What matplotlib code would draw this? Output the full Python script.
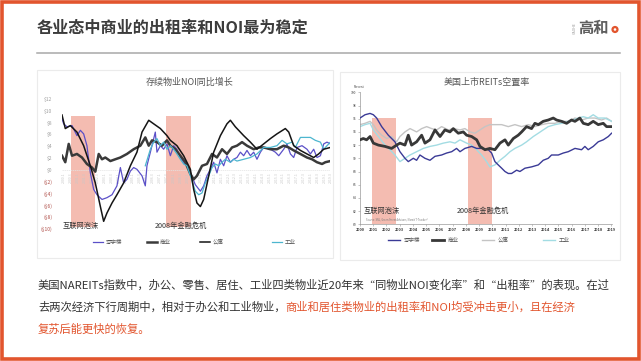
import matplotlib
matplotlib.use('Agg')
import matplotlib.pyplot as plt
from matplotlib.patches import Rectangle, Circle

plt.rcParams['font.family'] = ['Noto Sans CJK SC', 'DejaVu Sans']

W, H = 641, 361

# ---------------- data: left chart (same-store NOI growth, $) ----------------
series_names = ['写字楼', '商业', '公寓', '工业']

noi_office_x = [2000, 2000.12, 2000.36, 2000.73, 2001.09, 2001.34, 2001.58, 2001.82, 2002.07, 2002.31,
                2002.55, 2002.92, 2003.28, 2003.65, 2004.01, 2004.26, 2004.5, 2004.74, 2004.99, 2005.23,
                2005.47, 2005.84, 2006.08, 2006.2, 2006.45, 2006.81, 2006.93, 2007.18, 2007.42, 2007.66,
                2007.91, 2008.15, 2008.39, 2008.64, 2008.88, 2009.12, 2009.37, 2009.73, 2010.1, 2010.34,
                2010.58, 2010.83, 2011.07, 2011.31, 2011.56, 2011.8, 2012.04, 2012.29, 2012.53, 2012.77,
                2013.02, 2013.26, 2013.5, 2013.75, 2013.99, 2014.23, 2014.48, 2014.72, 2015.21, 2015.57,
                2015.82, 2016.18, 2016.42, 2016.67, 2016.91, 2017.15, 2017.52, 2017.88, 2018.13, 2018.37,
                2018.61, 2018.86, 2019.1, 2019.34, 2019.59]
noi_office = [8.7, 7.8, 7.3, 7.5, 5.8, 6.7, 6.1, 4.1, -0.5, -3.3,
              -4.2, -5.0, -4.7, -4.2, -2.7, 0.4, -2.2, -1.6, -0.2, 0.4,
              0.1, -1.0, -2.7, 0.7, 3.0, 6.4, 3.0, 4.1, 3.5, 4.4,
              2.4, 4.1, 3.5, 2.1, 1.3, 0.7, -0.5, -2.5, -3.6, -2.7,
              -1.0, 0.1, 1.3, -0.5, 1.8, 0.7, 2.4, 1.3, 1.8, 2.1,
              3.0, 2.4, 3.3, 2.4, 3.0, 1.8, 3.0, 3.8, 3.5, 3.0,
              2.4, 3.5, 4.4, 2.7, 2.1, 3.8, 4.1, 3.5, 2.7, 3.5,
              2.1, 2.4, 4.4, 4.7, 4.4]

noi_retail_x = [2000, 2000.24, 2000.49, 2000.73, 2001.09, 2001.46, 2001.82, 2002.19, 2002.43, 2002.68,
                2002.92, 2003.16, 2003.53, 2003.89, 2004.26, 2004.74, 2005.23, 2005.72, 2006.08, 2006.33,
                2006.57, 2006.93, 2007.3, 2007.66, 2007.91, 2008.27, 2008.64, 2009.0, 2009.37, 2009.61,
                2009.85, 2010.22, 2010.58, 2010.95, 2011.31, 2011.68, 2012.04, 2012.41, 2012.77, 2013.14,
                2013.5, 2013.99, 2014.36, 2014.72, 2015.21, 2015.69, 2016.18, 2016.55, 2016.91, 2017.4,
                2017.88, 2018.25, 2018.61, 2018.98, 2019.22, 2019.59]
noi_retail = [2.4, 1.3, 4.4, 2.4, 2.7, 2.1, 1.0, 0.4, -0.3, 2.7,
              1.8, 2.1, 1.5, 1.8, 2.1, 2.7, 3.5, 4.1, 5.5, 4.1,
              5.0, 4.7, 4.1, 5.0, 4.1, 3.5, 2.4, 1.3, -0.7, -1.6,
              -1.0, 0.7, 1.0, 2.7, 2.1, 3.5, 2.7, 3.8, 4.1, 4.7,
              4.1, 3.5, 3.8, 3.8, 3.5, 3.5, 4.1, 3.8, 3.3, 2.7,
              2.1, 1.8, 1.3, 1.0, 1.3, 1.5]

noi_apart_x = [2000, 2000.24, 2000.61, 2001.09, 2001.58, 2002.07, 2002.43, 2002.8, 2003.04, 2003.28,
               2003.65, 2004.01, 2004.5, 2004.99, 2005.47, 2005.84, 2006.33, 2006.69, 2007.18, 2007.66,
               2007.91, 2008.39, 2008.88, 2009.37, 2009.61, 2009.85, 2010.1, 2010.34, 2010.71, 2011.07,
               2011.56, 2012.04, 2012.29, 2012.65, 2013.26, 2013.75, 2014.23, 2014.72, 2015.21, 2015.69,
               2016.3, 2016.55, 2016.91, 2017.4, 2017.88, 2018.37, 2018.73, 2019.1, 2019.59]
noi_apart = [9.3, 7.0, 7.5, 6.4, 4.1, 0.7, -2.2, -6.2, -8.7, -7.3,
             -5.6, -4.2, -2.2, 0.7, 3.0, 6.4, 8.4, 7.8, 7.0, 5.8,
             5.0, 4.1, 2.4, 0.1, -3.3, -5.6, -6.2, -5.0, -1.0, 3.0,
             5.8, 7.8, 8.4, 7.3, 5.8, 4.7, 3.5, 4.4, 5.3, 6.1,
             7.0, 6.4, 4.1, 3.3, 2.7, 2.1, 2.7, 3.5, 3.8]

noi_indus_x = [2006.08, 2006.45, 2006.69, 2006.93, 2007.18, 2007.42, 2007.66, 2007.91, 2008.15, 2008.39,
               2008.64, 2008.88, 2009.12, 2009.37, 2009.73, 2009.98, 2010.22, 2010.46, 2010.71, 2010.95,
               2011.19, 2011.44, 2011.68, 2011.92, 2012.29, 2012.53, 2012.77, 2013.26, 2013.75, 2014.23,
               2014.72, 2015.21, 2015.69, 2016.06, 2016.42, 2016.79, 2017.03, 2017.4, 2017.76, 2018.13,
               2018.49, 2018.86, 2019.1, 2019.34, 2019.59]
noi_indus = [0.7, 3.5, 4.7, 5.3, 4.1, 4.7, 3.5, 4.1, 3.5, 2.7,
             1.8, 1.0, 0.7, -1.0, -3.6, -4.2, -3.9, -2.2, -1.0, 0.4,
             1.0, 0.7, 1.3, 1.8, 1.3, 1.8, 1.5, 1.8, 2.1, 2.7,
             3.8, 3.8, 4.1, 5.0, 4.4, 4.7, 3.8, 5.5, 5.5, 5.5,
             5.0, 4.7, 3.5, 4.1, 4.7]

noi_yticks = [12, 10, 8, 6, 4, 2, 0, -2, -4, -6, -8, -10]
noi_crisis = [(2000.66, 2002.41), (2007.59, 2009.42)]

# ---------------- data: right chart (listed REITs occupancy, %) ----------------
occ_office_x = [2000, 2000.38, 2000.76, 2001.01, 2001.26, 2001.64, 2002.14, 2002.64, 2003.02, 2003.4,
                2003.65, 2004.03, 2004.28, 2004.53, 2004.91, 2005.29, 2005.67, 2006.17, 2006.55, 2006.93,
                2007.3, 2007.56, 2007.93, 2008.44, 2008.82, 2009.19, 2009.7, 2009.95, 2010.2, 2010.45,
                2010.71, 2010.96, 2011.21, 2011.46, 2011.84, 2012.09, 2012.47, 2012.97, 2013.48, 2013.85,
                2014.23, 2014.48, 2014.99, 2015.37, 2015.74, 2016.25, 2016.75, 2017.0, 2017.25, 2017.63,
                2018.01, 2018.39, 2018.77, 2019.02]
occ_office = [96.1, 96.6, 96.8, 96.6, 96.1, 94.8, 93.5, 92.5, 91.0, 90.0,
              89.5, 90.0, 89.7, 90.5, 90.0, 89.7, 90.3, 90.5, 90.8, 91.0,
              91.5, 91.0, 91.5, 91.8, 91.5, 91.5, 91.3, 90.8, 89.5, 89.0,
              88.5, 88.0, 87.7, 87.7, 88.2, 88.0, 88.5, 88.7, 89.0, 89.7,
              90.0, 90.5, 90.5, 90.8, 91.0, 91.5, 91.3, 91.8, 91.3, 91.8,
              92.5, 92.8, 93.3, 93.8]

occ_retail_x = [2000, 2000.25, 2000.5, 2000.76, 2001.01, 2001.39, 2001.89, 2002.39, 2002.77, 2003.02,
                2003.4, 2003.65, 2003.9, 2004.28, 2004.66, 2004.91, 2005.29, 2005.67, 2006.05, 2006.42,
                2006.8, 2007.05, 2007.43, 2007.81, 2008.06, 2008.44, 2008.82, 2009.07, 2009.45, 2009.82,
                2010.2, 2010.58, 2010.96, 2011.21, 2011.59, 2011.96, 2012.22, 2012.59, 2012.97, 2013.22,
                2013.48, 2013.85, 2014.23, 2014.61, 2014.86, 2015.24, 2015.62, 2015.99, 2016.25, 2016.62,
                2016.88, 2017.25, 2017.63, 2018.01, 2018.39, 2018.64, 2019.02]
occ_retail = [92.8, 93.0, 92.8, 93.3, 92.3, 92.0, 91.8, 91.5, 92.0, 92.3,
              92.0, 93.5, 92.0, 92.5, 93.5, 92.3, 92.8, 94.3, 93.3, 94.3,
              94.0, 94.5, 93.8, 94.0, 93.5, 93.3, 92.8, 91.8, 91.3, 91.5,
              91.3, 92.3, 92.8, 92.0, 93.0, 93.5, 94.0, 94.8, 94.5, 95.3,
              95.1, 95.6, 95.8, 96.1, 95.8, 95.6, 95.3, 95.8, 95.6, 96.1,
              95.3, 95.1, 95.6, 95.1, 95.3, 94.8, 94.8]

occ_apart_x = [2000, 2000.38, 2000.76, 2001.01, 2001.26, 2001.64, 2002.02, 2002.39, 2002.77, 2003.02,
               2003.4, 2003.78, 2004.28, 2004.66, 2005.04, 2005.42, 2005.79, 2006.17, 2006.68, 2007.05,
               2007.56, 2007.93, 2008.31, 2008.69, 2009.07, 2009.45, 2009.82, 2010.2, 2010.71, 2011.21,
               2011.71, 2012.22, 2012.72, 2013.22, 2013.73, 2014.23, 2014.74, 2015.24, 2015.74, 2016.25,
               2016.75, 2017.25, 2017.76, 2018.26, 2018.64, 2019.02]
occ_apart = [95.1, 95.3, 95.6, 95.1, 94.3, 93.5, 93.0, 93.3, 92.5, 93.3,
             94.0, 94.5, 94.0, 94.5, 94.8, 94.5, 94.3, 94.8, 94.3, 94.5,
             94.3, 94.5, 94.0, 93.8, 94.3, 94.8, 95.1, 95.1, 95.1, 94.8,
             95.1, 94.8, 95.1, 94.8, 95.1, 95.3, 95.3, 95.6, 95.6, 96.1,
             95.8, 96.1, 96.1, 95.8, 96.1, 95.6]

occ_indus_x = [2000, 2000.38, 2000.76, 2001.01, 2001.39, 2001.89, 2002.27, 2002.64, 2003.02, 2003.4,
               2003.78, 2004.28, 2004.79, 2005.29, 2005.79, 2006.3, 2006.8, 2007.18, 2007.56, 2008.06,
               2008.44, 2008.82, 2009.19, 2009.57, 2009.82, 2010.2, 2010.58, 2010.96, 2011.34, 2011.71,
               2012.22, 2012.59, 2013.1, 2013.48, 2013.85, 2014.23, 2014.74, 2015.24, 2015.74, 2016.12,
               2016.5, 2016.88, 2017.25, 2017.63, 2018.01, 2018.51, 2019.02]
occ_indus = [94.8, 95.1, 95.3, 94.3, 93.3, 92.0, 91.3, 90.5, 89.5, 90.0,
             90.5, 91.0, 91.5, 91.8, 92.0, 92.3, 92.5, 92.3, 92.8, 92.3,
             92.0, 91.3, 90.5, 89.5, 88.7, 89.0, 89.7, 90.3, 91.0, 91.5,
             92.0, 92.5, 93.3, 93.8, 94.3, 94.8, 95.1, 95.3, 95.6, 95.8,
             96.1, 96.3, 96.1, 96.6, 96.1, 96.1, 95.6]

occ_years = list(range(2000, 2020))
occ_yticks = [80, 82, 84, 86, 88, 90, 92, 94, 96, 98, 100]
occ_crisis = [(2000.88, 2002.72), (2008.14, 2009.95)]

crisis_labels = ['互联网泡沫', '2008年金融危机']

# ---------------- texts ----------------
title = '各业态中商业的出租率和NOI最为稳定'
left_title = '存续物业NOI同比增长'
right_title = '美国上市REITs空置率'
para1 = '美国NAREITs指数中，办公、零售、居住、工业四类物业近20年来“同物业NOI变化率”和“出租率”的表现。在过'
para2a = '去两次经济下行周期中，相对于办公和工业物业，'
para2b = '商业和居住类物业的出租率和NOI均受冲击更小，且在经济'
para3 = '复苏后能更快的恢复。'

ORANGE = '#E2552E'
SHADE = '#F4BCB1'


def px_axes(x0, y0, x1, y1):
    return fig.add_axes([x0 / W, 1 - y1 / H, (x1 - x0) / W, (y1 - y0) / H])


fig = plt.figure(figsize=(W / 100, H / 100), dpi=100)
fig.patch.set_facecolor('white')

# overlay in pixel coords for slide decoration
bg = fig.add_axes([0, 0, 1, 1])
bg.set_xlim(0, W)
bg.set_ylim(H, 0)
bg.axis('off')
bg.add_patch(Rectangle((1.5, 1.5), W - 4, H - 3.5, fill=False, edgecolor=ORANGE, lw=2.6))
bg.plot([37, 620], [53, 53], color='#A8A8A8', lw=1.1)
bg.text(37, 28, title, fontsize=11.6, fontweight='bold', color='#3C3C3C', va='center', ha='left')
bg.text(593, 28, '高和', fontsize=11, fontweight='bold', color='#5E5E5E', va='center', ha='center')
bg.add_patch(Circle((615, 29.5), 3.6, facecolor=ORANGE, edgecolor='none'))
bg.add_patch(Circle((615, 29.5), 1.3, facecolor='white', edgecolor='none'))
bg.text(575, 28, 'GAOHE', fontsize=2.5, color='#999999', rotation=90, va='center', ha='center')

# chart panels
bg.add_patch(Rectangle((37, 70), 296, 188, facecolor='white', edgecolor='#EBEBEB', lw=0.8))
bg.add_patch(Rectangle((340, 72), 280, 188, facecolor='white', edgecolor='#EBEBEB', lw=0.8))

# paragraph
bg.text(38, 285, para1, fontsize=8.15, color='#333333', va='center', ha='left')
t2 = bg.text(38, 307, para2a, fontsize=8.15, color='#333333', va='center', ha='left')
fig.canvas.draw()
bb = t2.get_window_extent()
bg.text(bb.x1, 307, para2b, fontsize=8.15, color=ORANGE, va='center', ha='left')
bg.text(38, 329, para3, fontsize=8.15, color=ORANGE, va='center', ha='left')

# panel titles
bg.text(190, 82, left_title, fontsize=6.5, color='#555555', ha='center', va='center')
bg.text(487, 82, right_title, fontsize=6.5, color='#555555', ha='center', va='center')

# ---------------- left chart ----------------
axl = px_axes(62, 99, 330, 229)
axl.set_xlim(2000, 2019.56)
axl.set_ylim(-10, 12)
for s in axl.spines.values():
    s.set_visible(False)
axl.set_xticks([])
axl.set_yticks(noi_yticks)
ylabels = []
for v in noi_yticks:
    ylabels.append('$%d' % v if v >= 0 else '($%d)' % (-v))
axl.set_yticklabels(ylabels, fontsize=3.6)
axl.tick_params(axis='y', length=0, pad=7)
for lab, v in zip(axl.get_yticklabels(), noi_yticks):
    lab.set_color('#A0A0A0' if v >= 0 else '#B0504A')
axl.axhline(0, color='#E3E3E3', lw=0.5, ls=(0, (2, 1)))

for a, b in noi_crisis:
    axl.fill_between([a, b], -9.7, 9.1, color=SHADE, lw=0, zorder=0)

for yr in range(2000, 2020):
    for q in (1, 3):
        xx = yr + (q - 1) / 4
        if xx > 2019.5:
            continue
        axl.text(xx + 0.15, -0.4, '%d.%d' % (yr, q), rotation=90, fontsize=2.6,
                 color='#C8C8C8', ha='center', va='top', zorder=1)

axl.plot(noi_office_x, noi_office, color='#5B50C8', lw=0.9, zorder=3)
axl.plot(noi_retail_x, noi_retail, color='#3A3A3A', lw=1.8, zorder=3)
axl.plot(noi_apart_x, noi_apart, color='#151515', lw=1.1, zorder=4)
axl.plot(noi_indus_x, noi_indus, color='#4DB6CF', lw=0.9, zorder=3)
axl.text(2000.05, -9.4, crisis_labels[0], fontsize=5.2, color='#333333', va='center')
axl.text(2006.8, -9.4, crisis_labels[1], fontsize=5.2, color='#333333', va='center')

# left legend
left_leg_cols = ['#5B50C8', '#3A3A3A', '#151515', '#4DB6CF']
left_leg_lw = [0.9, 1.8, 1.1, 0.9]
left_leg_x = [93, 147, 200, 272]
for name, c, lw, x in zip(series_names, left_leg_cols, left_leg_lw, left_leg_x):
    bg.plot([x, x + 10], [242, 242], color=c, lw=lw)
    bg.text(x + 13, 242, name, fontsize=4, color='#555555', va='center')

# ---------------- right chart ----------------
axr = px_axes(360, 92.3, 612, 224.3)
axr.set_xlim(2000, 2019.05)
axr.set_ylim(80, 100)
for side in ('top', 'right'):
    axr.spines[side].set_visible(False)
for side in ('left', 'bottom'):
    axr.spines[side].set_color('#9A9A9A')
    axr.spines[side].set_linewidth(0.5)
axr.set_yticks(occ_yticks)
axr.set_yticklabels([str(v) for v in occ_yticks], fontsize=2.4, color='#444444')
axr.set_xticks(occ_years)
axr.set_xticklabels([str(v) for v in occ_years], fontsize=2.8, color='#333333', fontweight='bold')
axr.tick_params(length=1.2, width=0.4, pad=1.5, color='#9A9A9A')
axr.text(-0.025, 1.03, 'Percent', transform=axr.transAxes, fontsize=2.2, color='#444444')

for a, b in occ_crisis:
    axr.fill_between([a, b], 80, 96.15, color=SHADE, lw=0, zorder=0)

axr.plot(occ_apart_x, occ_apart, color='#C4C4C4', lw=1.0, zorder=2)
axr.plot(occ_indus_x, occ_indus, color='#A3DCE3', lw=1.0, zorder=2)
axr.plot(occ_office_x, occ_office, color='#3A3A96', lw=1.0, zorder=3)
axr.plot(occ_retail_x, occ_retail, color='#383838', lw=2.0, zorder=4)
axr.text(2000.3, 82.1, crisis_labels[0], fontsize=5.2, color='#333333', va='center')
axr.text(2007.3, 82.1, crisis_labels[1], fontsize=5.2, color='#333333', va='center')
axr.text(2000.45, 80.7, 'Source: SNL, Green Street Advisors, Nareit T-Tracker®', fontsize=1.8, color='#777777',
         va='center')

right_leg_cols = ['#3A3A96', '#383838', '#C4C4C4', '#A3DCE3']
right_leg_lw = [1.0, 2.0, 1.0, 1.0]
right_leg_x = [388, 432, 482, 543]
for name, c, lw, x in zip(series_names, right_leg_cols, right_leg_lw, right_leg_x):
    bg.plot([x, x + 12], [240, 240], color=c, lw=lw)
    bg.text(x + 16, 240, name, fontsize=4, color='#555555', va='center')

fig.savefig('out.png', dpi=100)
